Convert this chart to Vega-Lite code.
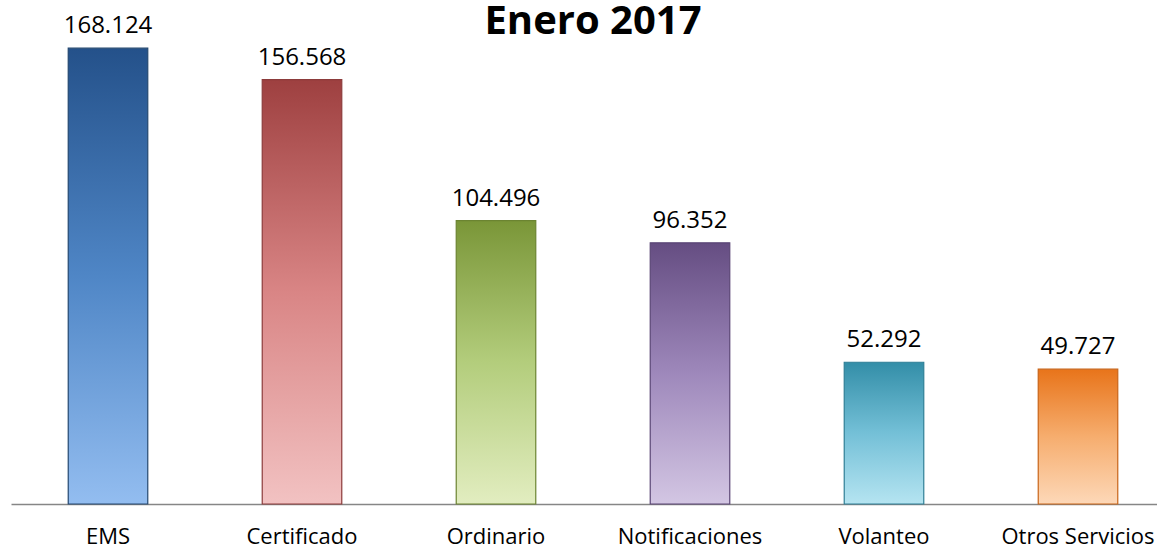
{
  "$schema": "https://vega.github.io/schema/vega-lite/v6.json",
  "autosize": "none",
  "width": 1164,
  "height": 488,
  "padding": {"left": 11, "top": 16, "right": 0, "bottom": 46},
  "background": "white",
  "view": {"stroke": null},
  "title": {"text": "Enero 2017", "font": "Open Sans", "fontSize": 40, "fontWeight": "bold", "color": "#000000", "anchor": "middle", "baseline": "alphabetic", "offset": 0, "dy": 60},
  "data": {"values": [
    {"servicio": "EMS", "valor": 168124, "etiqueta": "168.124"},
    {"servicio": "Certificado", "valor": 156568, "etiqueta": "156.568"},
    {"servicio": "Ordinario", "valor": 104496, "etiqueta": "104.496"},
    {"servicio": "Notificaciones", "valor": 96352, "etiqueta": "96.352"},
    {"servicio": "Volanteo", "valor": 52292, "etiqueta": "52.292"},
    {"servicio": "Otros Servicios", "valor": 49727, "etiqueta": "49.727"}
  ]},
  "encoding": {
    "x": {"field": "servicio", "type": "nominal", "sort": null,
      "scale": {"paddingInner": 0.59, "paddingOuter": 0.295},
      "axis": {"title": null, "labelAngle": 0, "ticks": false, "domainColor": "#868686", "domainWidth": 1.5, "labelFont": "Open Sans", "labelFontSize": 22, "labelColor": "#000000", "labelPadding": 22, "labelBaseline": "top"}},
    "y": {"field": "valor", "type": "quantitative", "scale": {"domain": [0, 180000]}, "axis": null}
  },
  "layer": [
    {"transform": [{"filter": "datum.servicio == 'EMS'"}], "mark": {"type": "bar", "stroke": "#244870", "strokeWidth": 1.2, "color": {"gradient": "linear", "x1": 0, "y1": 0, "x2": 0, "y2": 1, "stops": [{"offset": 0, "color": "#24518a"}, {"offset": 0.5, "color": "#4f86c6"}, {"offset": 1, "color": "#93bdf0"}]}}},
    {"transform": [{"filter": "datum.servicio == 'Certificado'"}], "mark": {"type": "bar", "stroke": "#8c3b3b", "strokeWidth": 1.2, "color": {"gradient": "linear", "x1": 0, "y1": 0, "x2": 0, "y2": 1, "stops": [{"offset": 0, "color": "#9e4040"}, {"offset": 0.5, "color": "#d98585"}, {"offset": 1, "color": "#f2c2c2"}]}}},
    {"transform": [{"filter": "datum.servicio == 'Ordinario'"}], "mark": {"type": "bar", "stroke": "#6b8431", "strokeWidth": 1.2, "color": {"gradient": "linear", "x1": 0, "y1": 0, "x2": 0, "y2": 1, "stops": [{"offset": 0, "color": "#7a9638"}, {"offset": 0.5, "color": "#b3cd7c"}, {"offset": 1, "color": "#e2edc0"}]}}},
    {"transform": [{"filter": "datum.servicio == 'Notificaciones'"}], "mark": {"type": "bar", "stroke": "#5a4575", "strokeWidth": 1.2, "color": {"gradient": "linear", "x1": 0, "y1": 0, "x2": 0, "y2": 1, "stops": [{"offset": 0, "color": "#654d82"}, {"offset": 0.5, "color": "#9e88bb"}, {"offset": 1, "color": "#d3c6e3"}]}}},
    {"transform": [{"filter": "datum.servicio == 'Volanteo'"}], "mark": {"type": "bar", "stroke": "#2f7f96", "strokeWidth": 1.2, "color": {"gradient": "linear", "x1": 0, "y1": 0, "x2": 0, "y2": 1, "stops": [{"offset": 0, "color": "#338ea8"}, {"offset": 0.5, "color": "#74c0d7"}, {"offset": 1, "color": "#b5e4f1"}]}}},
    {"transform": [{"filter": "datum.servicio == 'Otros Servicios'"}], "mark": {"type": "bar", "stroke": "#c86418", "strokeWidth": 1.2, "color": {"gradient": "linear", "x1": 0, "y1": 0, "x2": 0, "y2": 1, "stops": [{"offset": 0, "color": "#e8741a"}, {"offset": 0.5, "color": "#f6ad6e"}, {"offset": 1, "color": "#fdd8b8"}]}}},
    {"mark": {"type": "text", "font": "Open Sans", "fontSize": 24, "color": "#000000", "baseline": "bottom", "dy": -10}, "encoding": {"text": {"field": "etiqueta"}}}
  ]
}
